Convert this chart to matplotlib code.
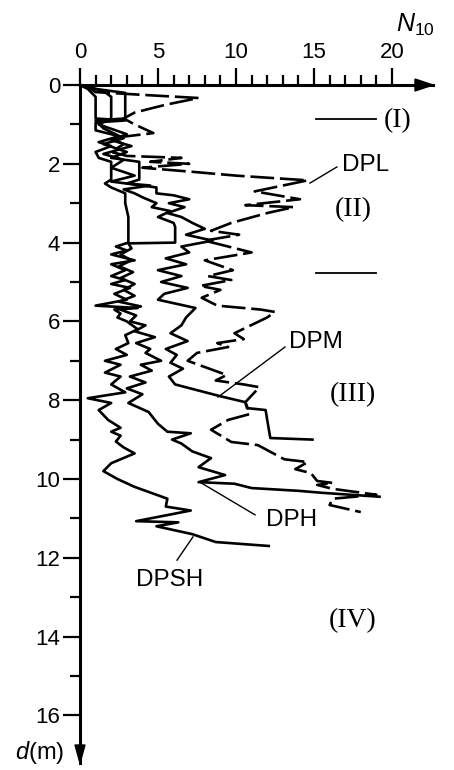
import matplotlib
matplotlib.use("Agg")
import matplotlib.pyplot as plt
from matplotlib.patches import Polygon

plt.rcParams['font.family'] = ['Liberation Sans', 'DejaVu Sans']
plt.rcParams['mathtext.fontset'] = 'custom'
plt.rcParams['mathtext.rm'] = 'Liberation Sans'
plt.rcParams['mathtext.it'] = 'Liberation Sans:italic'

# ---------------- data: (depth m, N10) ----------------
dpl = [(0.05, 0.5), (0.18, 1.0), (0.25, 4.0), (0.33, 7.6), (0.5, 5.5), (0.7, 3.5), (0.85, 2.8),
       (1.0, 3.5), (1.22, 4.7), (1.35, 2.0), (1.5, 2.8), (1.7, 2.0), (1.8, 3.0), (1.85, 6.5),
       (1.95, 4.5), (2.0, 7.0), (2.1, 4.0), (2.2, 7.1), (2.3, 10.0), (2.42, 14.6), (2.7, 11.2),
       (2.9, 14.1), (3.05, 10.6), (3.1, 13.7), (3.25, 12.0), (3.5, 9.7), (3.7, 8.4), (3.8, 10.2),
       (3.95, 8.0), (4.25, 11.0), (4.45, 8.0), (4.7, 9.8), (4.85, 8.2), (4.95, 9.7), (5.1, 7.7),
       (5.2, 9.0), (5.4, 7.8), (5.6, 8.8), (5.7, 11.6), (5.76, 12.5), (5.9, 12.0), (6.3, 9.9),
       (6.45, 10.5), (6.55, 8.8), (6.65, 9.5), (6.8, 7.5), (7.0, 6.9), (7.36, 9.4), (7.5, 8.7),
       (7.6, 10.5), (7.67, 11.5), (8.05, 10.6), (8.35, 10.9), (8.5, 9.5), (8.75, 8.4), (9.06, 9.7),
       (9.14, 11.4), (9.5, 13.1), (9.57, 14.6), (9.75, 13.8), (9.85, 14.8), (10.05, 15.2),
       (10.1, 16.2), (10.15, 15.2), (10.25, 16.2), (10.4, 19.0), (10.5, 16.2), (10.66, 16.0),
       (10.84, 18.0)]

dpm = [(0.0, 0.0), (0.15, 1.5), (0.3, 2.0), (0.85, 2.0), (1.0, 1.2), (1.25, 3.0), (1.4, 2.0),
       (1.55, 3.3), (1.75, 1.5), (1.9, 2.8), (2.1, 2.0), (2.3, 3.5), (2.45, 2.0), (2.6, 4.9),
       (2.75, 4.9), (2.8, 6.0), (2.9, 7.0), (3.0, 5.7), (3.1, 6.7), (3.25, 5.6), (3.35, 6.5),
       (3.5, 7.2), (3.65, 8.0), (3.8, 6.8), (3.95, 8.5), (4.1, 6.5), (4.25, 7.0), (4.4, 5.5),
       (4.55, 6.8), (4.7, 5.0), (4.85, 6.5), (5.0, 5.2), (5.15, 6.9), (5.3, 5.4), (5.45, 5.0),
       (5.66, 7.4), (5.9, 6.8), (6.1, 6.5), (6.3, 5.8), (6.5, 6.9), (6.7, 5.5), (6.85, 6.2),
       (7.05, 5.8), (7.2, 6.6), (7.4, 5.7), (7.6, 6.1), (7.9, 9.0), (8.05, 10.6), (8.2, 10.7),
       (8.25, 11.9), (8.5, 12.0), (8.96, 12.2), (9.0, 14.9)]

dph = [(0.0, 0.0), (0.1, 1.0), (0.2, 2.9), (0.85, 2.9), (0.9, 1.0), (1.1, 1.5), (1.35, 2.8),
       (1.5, 1.5), (1.7, 3.0), (1.85, 2.0), (1.95, 3.8), (2.4, 3.8), (2.5, 3.0), (2.55, 4.5),
       (2.65, 2.8), (2.75, 3.5), (2.85, 4.0), (3.0, 4.9), (3.1, 4.6), (3.2, 5.8), (3.35, 5.0),
       (3.5, 6.0), (3.6, 6.1), (4.0, 6.1), (4.02, 3.1), (4.15, 3.3), (4.3, 2.6), (4.45, 3.3),
       (4.6, 2.5), (4.75, 3.4), (4.9, 2.6), (5.05, 3.5), (5.2, 2.8), (5.35, 3.5), (5.5, 2.5),
       (5.62, 3.9), (5.7, 2.6), (5.85, 3.6), (6.0, 3.2), (6.1, 4.2), (6.25, 3.5), (6.4, 4.8),
       (6.55, 3.6), (6.7, 4.5), (6.8, 4.2), (7.0, 5.2), (7.1, 3.9), (7.25, 4.6), (7.4, 3.2),
       (7.55, 4.2), (7.7, 3.0), (7.85, 4.0), (8.07, 3.1), (8.3, 4.4), (8.45, 4.7), (8.6, 5.0),
       (8.8, 5.6), (8.84, 7.1), (9.0, 5.9), (9.1, 6.5), (9.3, 7.2), (9.47, 8.4), (9.7, 7.6),
       (9.9, 9.3), (10.08, 7.6), (10.12, 9.9), (10.23, 11.0), (10.3, 14.0), (10.35, 15.5),
       (10.45, 19.2)]

dpsh = [(0.0, 0.0), (0.1, 0.5), (0.3, 1.0), (0.85, 1.0), (0.9, 2.9), (0.95, 1.0), (1.15, 1.0),
        (1.3, 2.5), (1.45, 1.2), (1.55, 2.0), (1.7, 1.0), (1.85, 1.2), (1.95, 2.0), (2.4, 2.0),
        (2.5, 1.6), (2.6, 2.0), (2.75, 2.9), (3.0, 2.9), (3.35, 3.1), (4.0, 3.1), (4.1, 2.3),
        (4.2, 3.0), (4.3, 2.0), (4.45, 3.5), (4.55, 2.0), (4.7, 2.9), (4.85, 2.0), (4.95, 2.9),
        (5.05, 2.0), (5.15, 3.2), (5.3, 2.2), (5.45, 3.0), (5.6, 1.0), (5.66, 3.7), (5.7, 2.2),
        (5.8, 2.6), (5.9, 2.4), (6.0, 3.0), (6.2, 3.7), (6.35, 2.9), (6.55, 3.1), (6.7, 2.3),
        (6.85, 3.0), (7.0, 1.6), (7.1, 2.6), (7.3, 1.6), (7.4, 2.6), (7.6, 2.0), (7.8, 2.9),
        (7.95, 0.5), (8.07, 2.0), (8.25, 1.2), (8.5, 1.8), (8.7, 2.6), (8.8, 2.0), (8.9, 2.6),
        (9.05, 2.3), (9.2, 2.8), (9.35, 3.5), (9.6, 2.0), (9.8, 1.5), (10.0, 2.4), (10.2, 3.5),
        (10.5, 5.6), (10.7, 5.5), (10.8, 7.1), (11.07, 3.6), (11.1, 6.3), (11.2, 4.9),
        (11.4, 7.2), (11.6, 8.7), (11.7, 12.1)]

x_major = [0, 5, 10, 15, 20]
y_major = [0, 2, 4, 6, 8, 10, 12, 14, 16]
zone_labels = ["(I)", "(II)", "(III)", "(IV)"]
zone_depths = [0.91, 3.17, 7.87, 13.6]
boundary_depths = [0.86, 4.77]
curve_names = ["DPL", "DPM", "DPH", "DPSH"]

# ---------------- figure ----------------
W, H = 454, 770
PX_N, PX_D = 15.6, 39.4
X0, Y0 = 80, 85
XEND, YEND = 433, 763

fig = plt.figure(figsize=(W / 100, H / 100), dpi=100)
ax = fig.add_axes([X0 / W, 1 - YEND / H, (XEND - X0) / W, (YEND - Y0) / H])
xmax = (XEND - X0) / PX_N
ymax = (YEND - Y0) / PX_D
ax.set_xlim(0, xmax)
ax.set_ylim(ymax, 0)
ax.patch.set_alpha(0)

for s in ['bottom', 'right']:
    ax.spines[s].set_visible(False)
for s in ['top', 'left']:
    ax.spines[s].set_linewidth(2.2)

ax.xaxis.tick_top()
ax.set_xticks(x_major)
ax.set_xticks(range(0, 21), minor=True)
ax.set_yticks(y_major)
ax.set_yticks(range(1, 17, 2), minor=True)
ax.tick_params(which='major', direction='out', length=12.2, width=1.6, labelsize=16)
ax.tick_params(which='minor', direction='out', length=7.0, width=1.6)
ax.tick_params(axis='x', pad=4)
ax.tick_params(axis='y', pad=2)
ax.set_xticklabels([str(v) for v in x_major])
ax.set_yticklabels([str(v) for v in y_major])

# arrowheads
hw_d = 6 / PX_D
ax.add_patch(Polygon([[xmax, 0], [xmax - 18 / PX_N, -hw_d], [xmax - 18 / PX_N, hw_d]],
                     closed=True, color='k', clip_on=False))
hw_n = 5 / PX_N
ax.add_patch(Polygon([[0, ymax], [-hw_n, ymax - 18 / PX_D], [hw_n, ymax - 18 / PX_D]],
                     closed=True, color='k', clip_on=False))

# curves
lw = 1.9
for name, data in zip(curve_names, [dpl, dpm, dph, dpsh]):
    d = [p[0] for p in data]
    n = [p[1] for p in data]
    if name == "DPL":
        ax.plot(n, d, color='k', lw=lw, dashes=(9, 2.2), clip_on=False)
    else:
        ax.plot(n, d, color='k', lw=lw, clip_on=False)

# labels with leaders
label_pos = {"DPL": (18.33, 2.03), "DPM": (15.13, 6.52), "DPH": (13.53, 11.04), "DPSH": (5.77, 12.56)}
leaders = {"DPL": ((16.47, 2.08), (14.74, 2.49)),
           "DPM": ((13.14, 6.65), (8.85, 7.92)),
           "DPH": ((7.69, 10.08), (11.22, 10.91)),
           "DPSH": ((7.24, 11.47), (6.22, 12.06))}
for name in curve_names:
    x, y = label_pos[name]
    ax.text(x, y, name, ha='center', va='center', fontsize=17.5)
    (a, b), (c, e) = leaders[name]
    ax.plot([a, c], [b, e], color='k', lw=1.0)

# zones
zone_x = [20.38, 17.5, 17.5, 17.5]
for lab, zx, zd in zip(zone_labels, zone_x, zone_depths):
    ax.text(zx, zd, lab, ha='center', va='center', fontsize=20, family='Liberation Serif')
for bd in boundary_depths:
    ax.plot([15.1, 19.0], [bd, bd], color='k', lw=1.3)

# axis titles
fig.text(415 / W, 1 - 25 / H, r'$N_{10}$', ha='center', va='center', fontsize=18)
fig.text(40 / W, 1 - 752 / H, r'$d$(m)', ha='center', va='center', fontsize=17)

fig.savefig('out.png', dpi=100)
